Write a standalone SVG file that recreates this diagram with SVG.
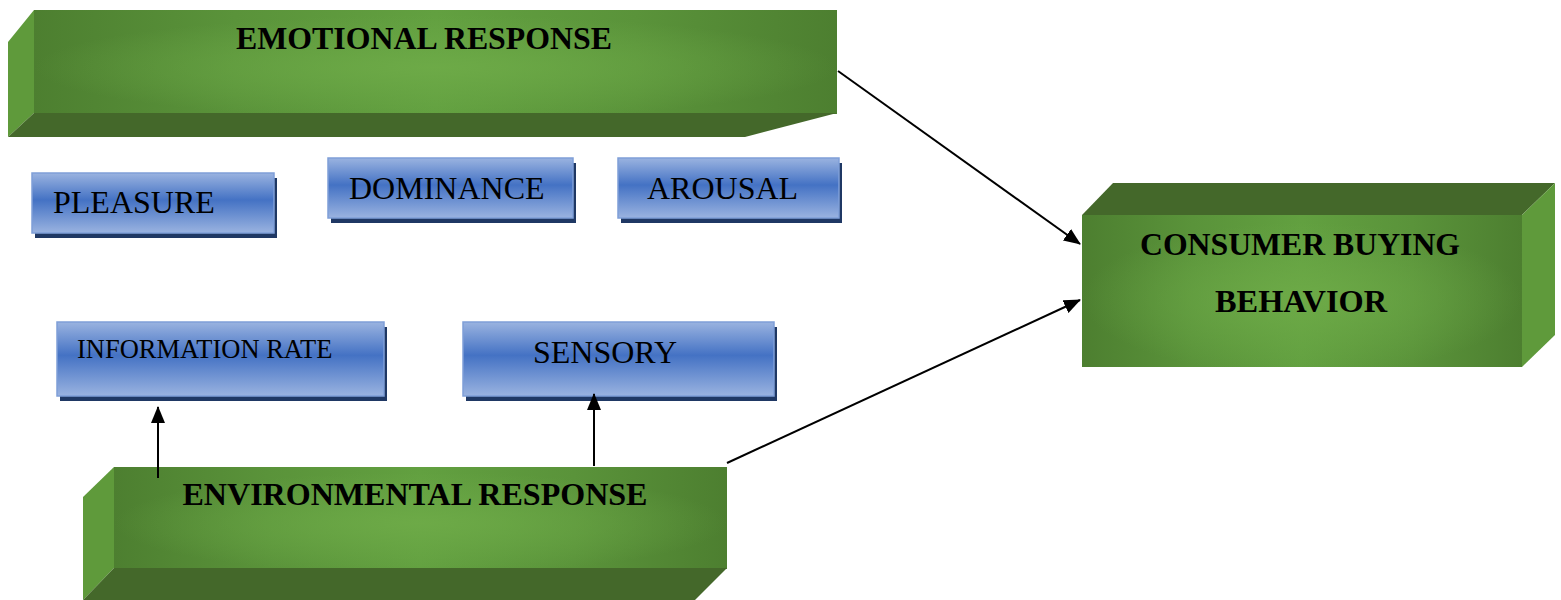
<svg xmlns="http://www.w3.org/2000/svg" width="1561" height="600" viewBox="0 0 1561 600">
<style>
.bold{font-family:"Liberation Serif","Times New Roman",serif;font-weight:bold;font-size:31.5px;fill:#000;text-anchor:middle}
.reg{font-family:"Liberation Serif","Times New Roman",serif;font-size:32px;fill:#000}
.front{fill:url(#gfront)}
.glow{fill:url(#gglow)}
.side{fill:#5f9a3b}
.dark{fill:#44682a}
.blue{fill:url(#gblue);stroke:#7f9fd8;stroke-width:1.5}
.shadow{fill:#1f3864}
.conn{stroke:#000;stroke-width:2;fill:none;marker-end:url(#ah)}
</style>
<defs>
<linearGradient id="gfront" x1="0" y1="0" x2="1" y2="0">
<stop offset="0" stop-color="#4d7f30"/>
<stop offset="0.25" stop-color="#5a933a"/>
<stop offset="0.5" stop-color="#62a040"/>
<stop offset="0.75" stop-color="#5a933a"/>
<stop offset="1" stop-color="#4d7f30"/>
</linearGradient>
<radialGradient id="gglow" cx="0.5" cy="0.55" r="0.5">
<stop offset="0" stop-color="#6eab48" stop-opacity="0.9"/>
<stop offset="1" stop-color="#6eab48" stop-opacity="0"/>
</radialGradient>
<linearGradient id="gblue" x1="0" y1="0" x2="0" y2="1">
<stop offset="0" stop-color="#9ab3e0"/>
<stop offset="0.45" stop-color="#4472c4"/>
<stop offset="1" stop-color="#9ab3e0"/>
</linearGradient>
<marker id="ah" markerWidth="17" markerHeight="14" refX="16" refY="7" orient="auto" markerUnits="userSpaceOnUse">
<path d="M0,0 L17,7 L0,14 Z" fill="#000"/>
</marker>
</defs>

<g id="emotional-response">
<rect class="front" x="34" y="10" width="803" height="104"/>
<rect class="glow" x="34" y="10" width="803" height="104"/>
<polygon class="side" points="8,42 34,10 34,113 8,137"/>
<polygon class="dark" points="8,137 34,113 837,113 745,137"/>
<text class="bold" x="424" y="49" textLength="376" lengthAdjust="spacingAndGlyphs">EMOTIONAL RESPONSE</text>
</g>

<g id="pleasure">
<rect class="shadow" x="35" y="178" width="242" height="60"/>
<rect class="blue" x="32" y="173" width="242" height="60"/>
<text class="reg" x="53" y="213">PLEASURE</text>
</g>

<g id="dominance">
<rect class="shadow" x="331" y="163" width="245" height="60"/>
<rect class="blue" x="328" y="158" width="245" height="60"/>
<text class="reg" x="349" y="199">DOMINANCE</text>
</g>

<g id="arousal">
<rect class="shadow" x="621" y="163" width="221" height="60"/>
<rect class="blue" x="618" y="158" width="221" height="60"/>
<text class="reg" x="647" y="199">AROUSAL</text>
</g>

<g id="information-rate">
<rect class="shadow" x="60" y="327" width="327" height="74"/>
<rect class="blue" x="57" y="322" width="327" height="74"/>
<text class="reg" x="77" y="358" style="font-size:26.5px">INFORMATION RATE</text>
</g>

<g id="sensory">
<rect class="shadow" x="466" y="327" width="311" height="74"/>
<rect class="blue" x="463" y="322" width="311" height="74"/>
<text class="reg" x="533" y="363">SENSORY</text>
</g>

<g id="environmental-response">
<rect class="front" x="114" y="467" width="613" height="102"/>
<rect class="glow" x="114" y="467" width="613" height="102"/>
<polygon class="side" points="83,497 114,467 114,568 83,600"/>
<polygon class="dark" points="83,600 114,568 727,568 695,600"/>
<text class="bold" x="415" y="505" textLength="465" lengthAdjust="spacingAndGlyphs">ENVIRONMENTAL RESPONSE</text>
</g>

<g id="consumer-buying-behavior">
<rect class="front" x="1082" y="215" width="440" height="152"/>
<rect class="glow" x="1082" y="215" width="440" height="152"/>
<polygon class="dark" points="1082,215 1113,183 1555,183 1522,215"/>
<polygon class="side" points="1522,215 1555,183 1555,335 1522,367"/>
<text class="bold" x="1300" y="255" textLength="320" lengthAdjust="spacingAndGlyphs">CONSUMER BUYING</text>
<text class="bold" x="1301" y="312" textLength="172" lengthAdjust="spacingAndGlyphs">BEHAVIOR</text>
</g>

<g id="connectors">
<line class="conn" x1="838" y1="71" x2="1080" y2="244"/>
<line class="conn" x1="727" y1="463" x2="1080" y2="300"/>
<line class="conn" x1="158" y1="478" x2="158" y2="407"/>
<line class="conn" x1="594" y1="466" x2="594" y2="394"/>
</g>
</svg>
